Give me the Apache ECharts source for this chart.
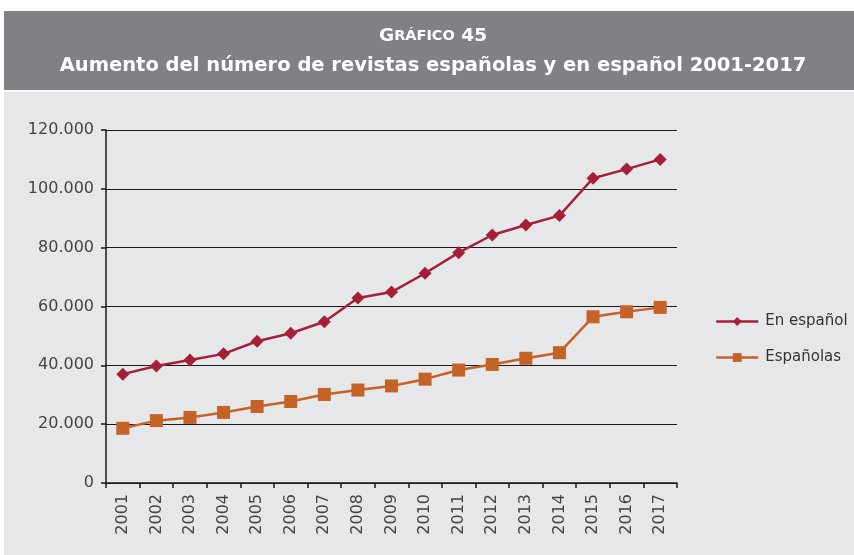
<!DOCTYPE html>
<html>
<head>
<meta charset="utf-8">
<style>
  html, body { margin: 0; padding: 0; background: #ffffff; }
  #chart { width: 854px; height: 555px; }
</style>
<script src="https://cdn.jsdelivr.net/npm/echarts@6/dist/echarts.min.js"></script>
</head>
<body>
<div id="chart"></div>
<script>
// Years on the category axis
const years = ['2001','2002','2003','2004','2005','2006','2007','2008','2009',
               '2010','2011','2012','2013','2014','2015','2016','2017'];

// Number of journals published in Spanish
const enEspanol = [37000, 39800, 41800, 43900, 48200, 50900, 54800, 62900, 64900,
                   71300, 78300, 84300, 87700, 90900, 103600, 106700, 110000];

// Number of Spanish journals
const espanolas = [18600, 21200, 22300, 24000, 26000, 27700, 30100, 31600, 33000,
                   35300, 38400, 40300, 42400, 44300, 56500, 58200, 59700];

// Value-axis ticks
const yTicks = [0, 20000, 40000, 60000, 80000, 100000, 120000];

const seriesNames = ['En español', 'Españolas'];

function thousands(v) {
  if (v === 0) return '0';
  return String(v).replace(/\B(?=(\d{3})+(?!\d))/g, '.');
}

const chart = echarts.init(document.getElementById('chart'), null, { renderer: 'canvas' });

const font = '"DejaVu Sans", Verdana, sans-serif';

chart.setOption({
  animation: false,
  backgroundColor: '#ffffff',
  textStyle: { fontFamily: font },
  graphic: [
    { type: 'rect', z: -10, shape: { x: 4, y: 92, width: 850, height: 463 },
      style: { fill: '#e6e7e9' } },
    { type: 'rect', z: -10, shape: { x: 4, y: 11, width: 850, height: 79 },
      style: { fill: '#808184' } }
  ],
  title: {
    text: '{g|G}{s|RÁFICO}{g| 45}\n{t|Aumento del número de revistas españolas y en español 2001-2017}',
    left: 428,
    textAlign: 'center',
    top: 17,
    textStyle: {
      rich: {
        g: { fontSize: 18.5, color: '#ffffff', fontFamily: font, fontWeight: 'bold', lineHeight: 29 },
        s: { fontSize: 14.5, color: '#ffffff', fontFamily: font, fontWeight: 'bold', lineHeight: 29 },
        t: { fontSize: 19.5, color: '#ffffff', fontFamily: font, fontWeight: 'bold', lineHeight: 29 }
      }
    }
  },
  legend: {
    orient: 'vertical',
    left: 710,
    top: 309,
    itemWidth: 42,
    itemHeight: 11,
    itemGap: 21,
    data: seriesNames,
    lineStyle: { width: 2.5 },
    textStyle: { fontSize: 15, color: '#333333', fontFamily: font, padding: [0, 0, 0, 2] }
  },
  grid: { left: 106, right: 177, top: 130, bottom: 72, containLabel: false },
  xAxis: {
    type: 'category',
    data: years,
    boundaryGap: true,
    axisLine: { lineStyle: { color: '#1a1a1a', width: 1.5 } },
    axisTick: { show: true, length: 5, lineStyle: { color: '#1a1a1a', width: 1.5 } },
    axisLabel: { rotate: 90, fontSize: 16, color: '#444444', margin: 11, fontFamily: font },
    splitLine: { show: false }
  },
  yAxis: {
    type: 'value',
    min: yTicks[0],
    max: yTicks[yTicks.length - 1],
    interval: yTicks[1] - yTicks[0],
    axisLine: { show: true, lineStyle: { color: '#1a1a1a', width: 1.5 } },
    axisTick: { show: true, length: 5, lineStyle: { color: '#1a1a1a', width: 1.5 } },
    axisLabel: { fontSize: 16, color: '#444444', margin: 12, fontFamily: font, formatter: thousands },
    splitLine: { lineStyle: { color: '#1a1a1a', width: 1.2 } }
  },
  series: [
    {
      name: seriesNames[0],
      type: 'line',
      data: enEspanol,
      symbol: 'diamond',
      symbolSize: 13,
      color: '#a51f37',
      lineStyle: { width: 2.5, color: '#a51f37' },
      itemStyle: { color: '#a51f37' }
    },
    {
      name: seriesNames[1],
      type: 'line',
      data: espanolas,
      symbol: 'rect',
      symbolSize: 13,
      color: '#c56227',
      lineStyle: { width: 2.5, color: '#c56227' },
      itemStyle: { color: '#c56227' }
    }
  ]
});
</script>
</body>
</html>
